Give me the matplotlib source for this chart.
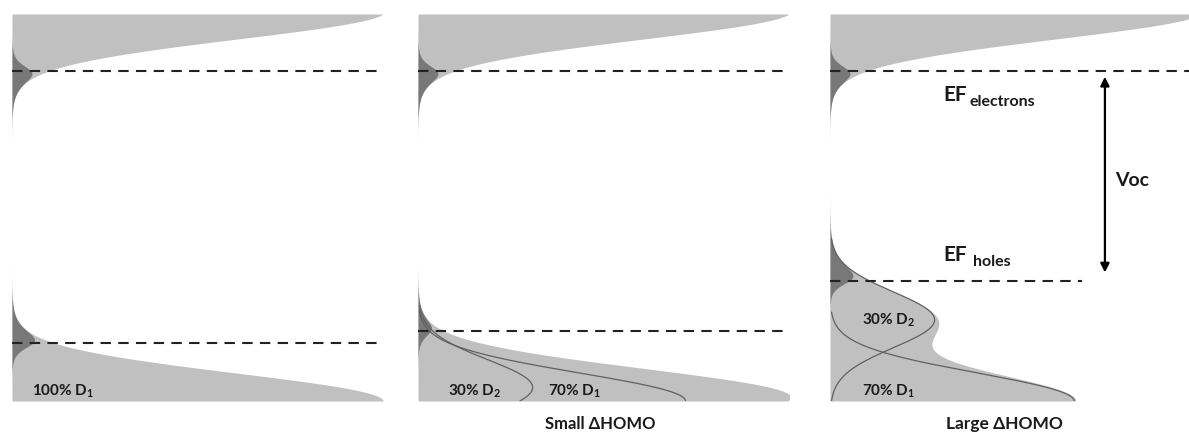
import numpy as np
import matplotlib
matplotlib.use("Agg")
import matplotlib.pyplot as plt

plt.rcParams['font.family'] = ['Lato', 'DejaVu Sans']
plt.rcParams['font.weight'] = 'bold'
plt.rcParams['mathtext.fontset'] = 'custom'
plt.rcParams['mathtext.rm'] = 'Lato:bold'
plt.rcParams['mathtext.it'] = 'Lato:bold'
plt.rcParams['mathtext.bf'] = 'Lato:bold'

# energies in eV, D1 HOMO centre = 0
e_top = 1.43          # top of the drawn energy window
lumo_center = 1.441
sigma = 0.103
kT = 0.015
ef_electrons = [1.22, 1.22, 1.22]
ef_holes = [0.215, 0.26, 0.445]
d2_shift = [0.0, 0.05, 0.30]
d1_share = [1.0, 0.7, 0.7]
d2_share = [0.0, 0.3, 0.3]
dos_scale = [1.0, 1.03, 0.94]
panel_titles = ["", "Small ΔHOMO", "Large ΔHOMO"]

LIGHT = "#c0c0c0"
DARK = "#787878"
TXT = "#1a1a1a"

W, H = 1189, 434
fig = plt.figure(figsize=(W / 100, H / 100), dpi=100)

panel_left = [12, 418, 830]  # pixels


def gauss(E, c):
    return np.exp(-0.5 * ((E - c) / sigma) ** 2)


axes = []
for i in range(3):
    ax = fig.add_axes([panel_left[i] / W, 33 / H, 371 / W, 387 / H])
    ax.set_xlim(0, 1)
    ax.set_ylim(0, e_top)
    ax.axis('off')
    axes.append(ax)

    E = np.linspace(0, e_top, 1500)

    # LUMO + occupied electrons
    lumo = gauss(E, lumo_center) / gauss(e_top, lumo_center)
    occ_e = lumo / (1 + np.exp((E - ef_electrons[i]) / kT))
    ax.fill_betweenx(E, 0, lumo, color=LIGHT, lw=0)
    ax.fill_betweenx(E, 0, occ_e, color=DARK, lw=0)

    # HOMO (D1 + D2) + holes
    d1 = dos_scale[i] * d1_share[i] * gauss(E, 0)
    d2 = dos_scale[i] * d2_share[i] * gauss(E, d2_shift[i])
    homo = d1 + d2
    occ_h = homo / (1 + np.exp((ef_holes[i] - E) / kT))
    ax.fill_betweenx(E, 0, homo, color=LIGHT, lw=0)
    ax.fill_betweenx(E, 0, occ_h, color=DARK, lw=0)
    if d2_share[i] > 0:
        for comp in (d1, d2):
            m = comp > 0.004
            ax.plot(comp[m], E[m], color="#606060", lw=0.9)

    # quasi fermi levels
    dash = (0, (5, 3.5))
    ax.plot([0, 1], [ef_electrons[i]] * 2, color="#222222", lw=1.5, ls=dash)
    x_end = 0.68 if i == 2 else 1.0
    ax.plot([0, x_end], [ef_holes[i]] * 2, color="#222222", lw=1.5, ls=dash)

axes[1].text(0.49, -0.085, panel_titles[1], ha='center', va='center',
             fontsize=12, color=TXT, clip_on=False)
axes[2].text(0.469, -0.085, panel_titles[2], ha='center', va='center',
             fontsize=12.5, color=TXT, clip_on=False)

# composition labels
axes[0].text(0.054, 0.035, r"100% D$_1$", fontsize=11, color=TXT, va='center')
axes[1].text(0.081, 0.035, r"30% D$_2$", fontsize=11, color=TXT, va='center')
axes[1].text(0.35, 0.035, r"70% D$_1$", fontsize=11, color=TXT, va='center')
axes[2].text(0.086, 0.30, r"30% D$_2$", fontsize=11, color=TXT, va='center')
axes[2].text(0.086, 0.035, r"70% D$_1$", fontsize=11, color=TXT, va='center')

# EF labels and Voc arrow in the last panel
ax = axes[2]
ax.text(0.305, ef_electrons[2] - 0.089, "EF", fontsize=15, color=TXT,
        va='center', ha='left')
ax.text(0.377, ef_electrons[2] - 0.115, "electrons", fontsize=11.5, color=TXT,
        va='center', ha='left')
ax.text(0.305, ef_holes[2] + 0.096, "EF", fontsize=15, color=TXT,
        va='center', ha='left')
ax.text(0.385, ef_holes[2] + 0.07, "holes", fontsize=11.5, color=TXT,
        va='center', ha='left')

ax.annotate('', xy=(0.741, ef_holes[2] + 0.03), xytext=(0.741, ef_electrons[2] - 0.022),
            arrowprops=dict(arrowstyle='<|-|>', lw=1.6, color='black',
                            mutation_scale=13, shrinkA=0, shrinkB=0),
            annotation_clip=False)
ax.text(0.768, 0.815, "Voc", fontsize=14, color=TXT, va='center', ha='left')

fig.savefig("out.png", dpi=100)
